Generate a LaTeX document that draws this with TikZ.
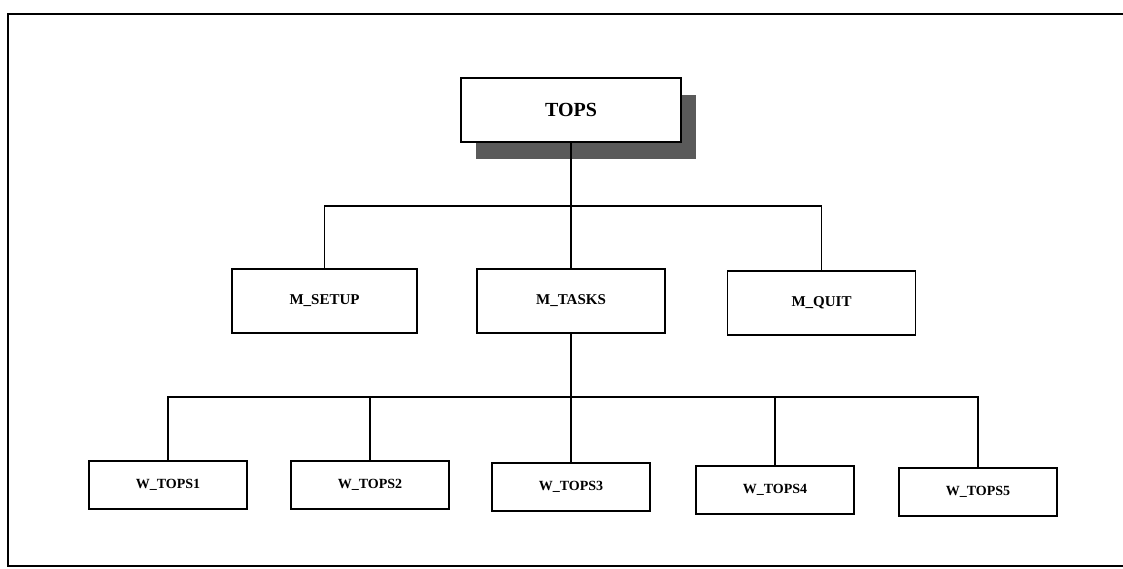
\documentclass[tikz,border=0pt]{standalone}
\usepackage{fontspec}
\setmainfont{Liberation Serif}
\usetikzlibrary{shadows}
\definecolor{shadowgray}{HTML}{5A5A5A}
\begin{document}
\begin{tikzpicture}[x=1pt,y=-1pt,
  box/.style={draw,line width=1.3pt,fill=white,inner sep=0pt,font=\bfseries},
  mbox/.style={box,minimum width=188pt,minimum height=64pt,font=\fontsize{15}{18}\selectfont\bfseries},
  wbox/.style={box,minimum width=158pt,minimum height=48pt,font=\fontsize{14}{17}\selectfont\bfseries},
  link/.style={line width=1.1pt}]
\useasboundingbox (0,0) rectangle (1123,569);
\fill[white] (0,0) rectangle (1123,569);
% frame
\draw[line width=1.8pt] (1123,14) -- (8,14) -- (8,566) -- (1123,566);
% nodes
\node[box,minimum width=220pt,minimum height=64pt,font=\fontsize{20}{24}\selectfont\bfseries,
  drop shadow={shadow xshift=15pt,shadow yshift=-17pt,fill=shadowgray,opacity=1}] (tops) at (571,110) {TOPS};
\node[mbox,minimum width=185pt] (msetup) at (324.5,301) {M\_SETUP};
\node[mbox] (mtasks) at (571,301) {M\_TASKS};
\node[mbox] (mquit) at (821.5,303) {M\_QUIT};
\node[wbox] (w1) at (168,485) {W\_TOPS1};
\node[wbox] (w2) at (370,485) {W\_TOPS2};
\node[wbox] (w3) at (571,487) {W\_TOPS3};
\node[wbox] (w4) at (775,490) {W\_TOPS4};
\node[wbox] (w5) at (978,492) {W\_TOPS5};
\coordinate (busA) at (0,206);
\coordinate (busB) at (0,397);
% connectors
\draw[link] (tops.south) -- (tops.south |- busA);
\draw[link] (msetup.north) -- (msetup.north |- busA) -- (mquit.north |- busA) -- (mquit.north);
\draw[link] (mtasks.north) -- (mtasks.north |- busA);
\draw[link] (mtasks.south) -- (w3.north);
\draw[link] (w1.north) -- (w1.north |- busB) -- (w5.north |- busB) -- (w5.north);
\draw[link] (w2.north) -- (w2.north |- busB);
\draw[link] (w4.north) -- (w4.north |- busB);
\end{tikzpicture}
\end{document}
